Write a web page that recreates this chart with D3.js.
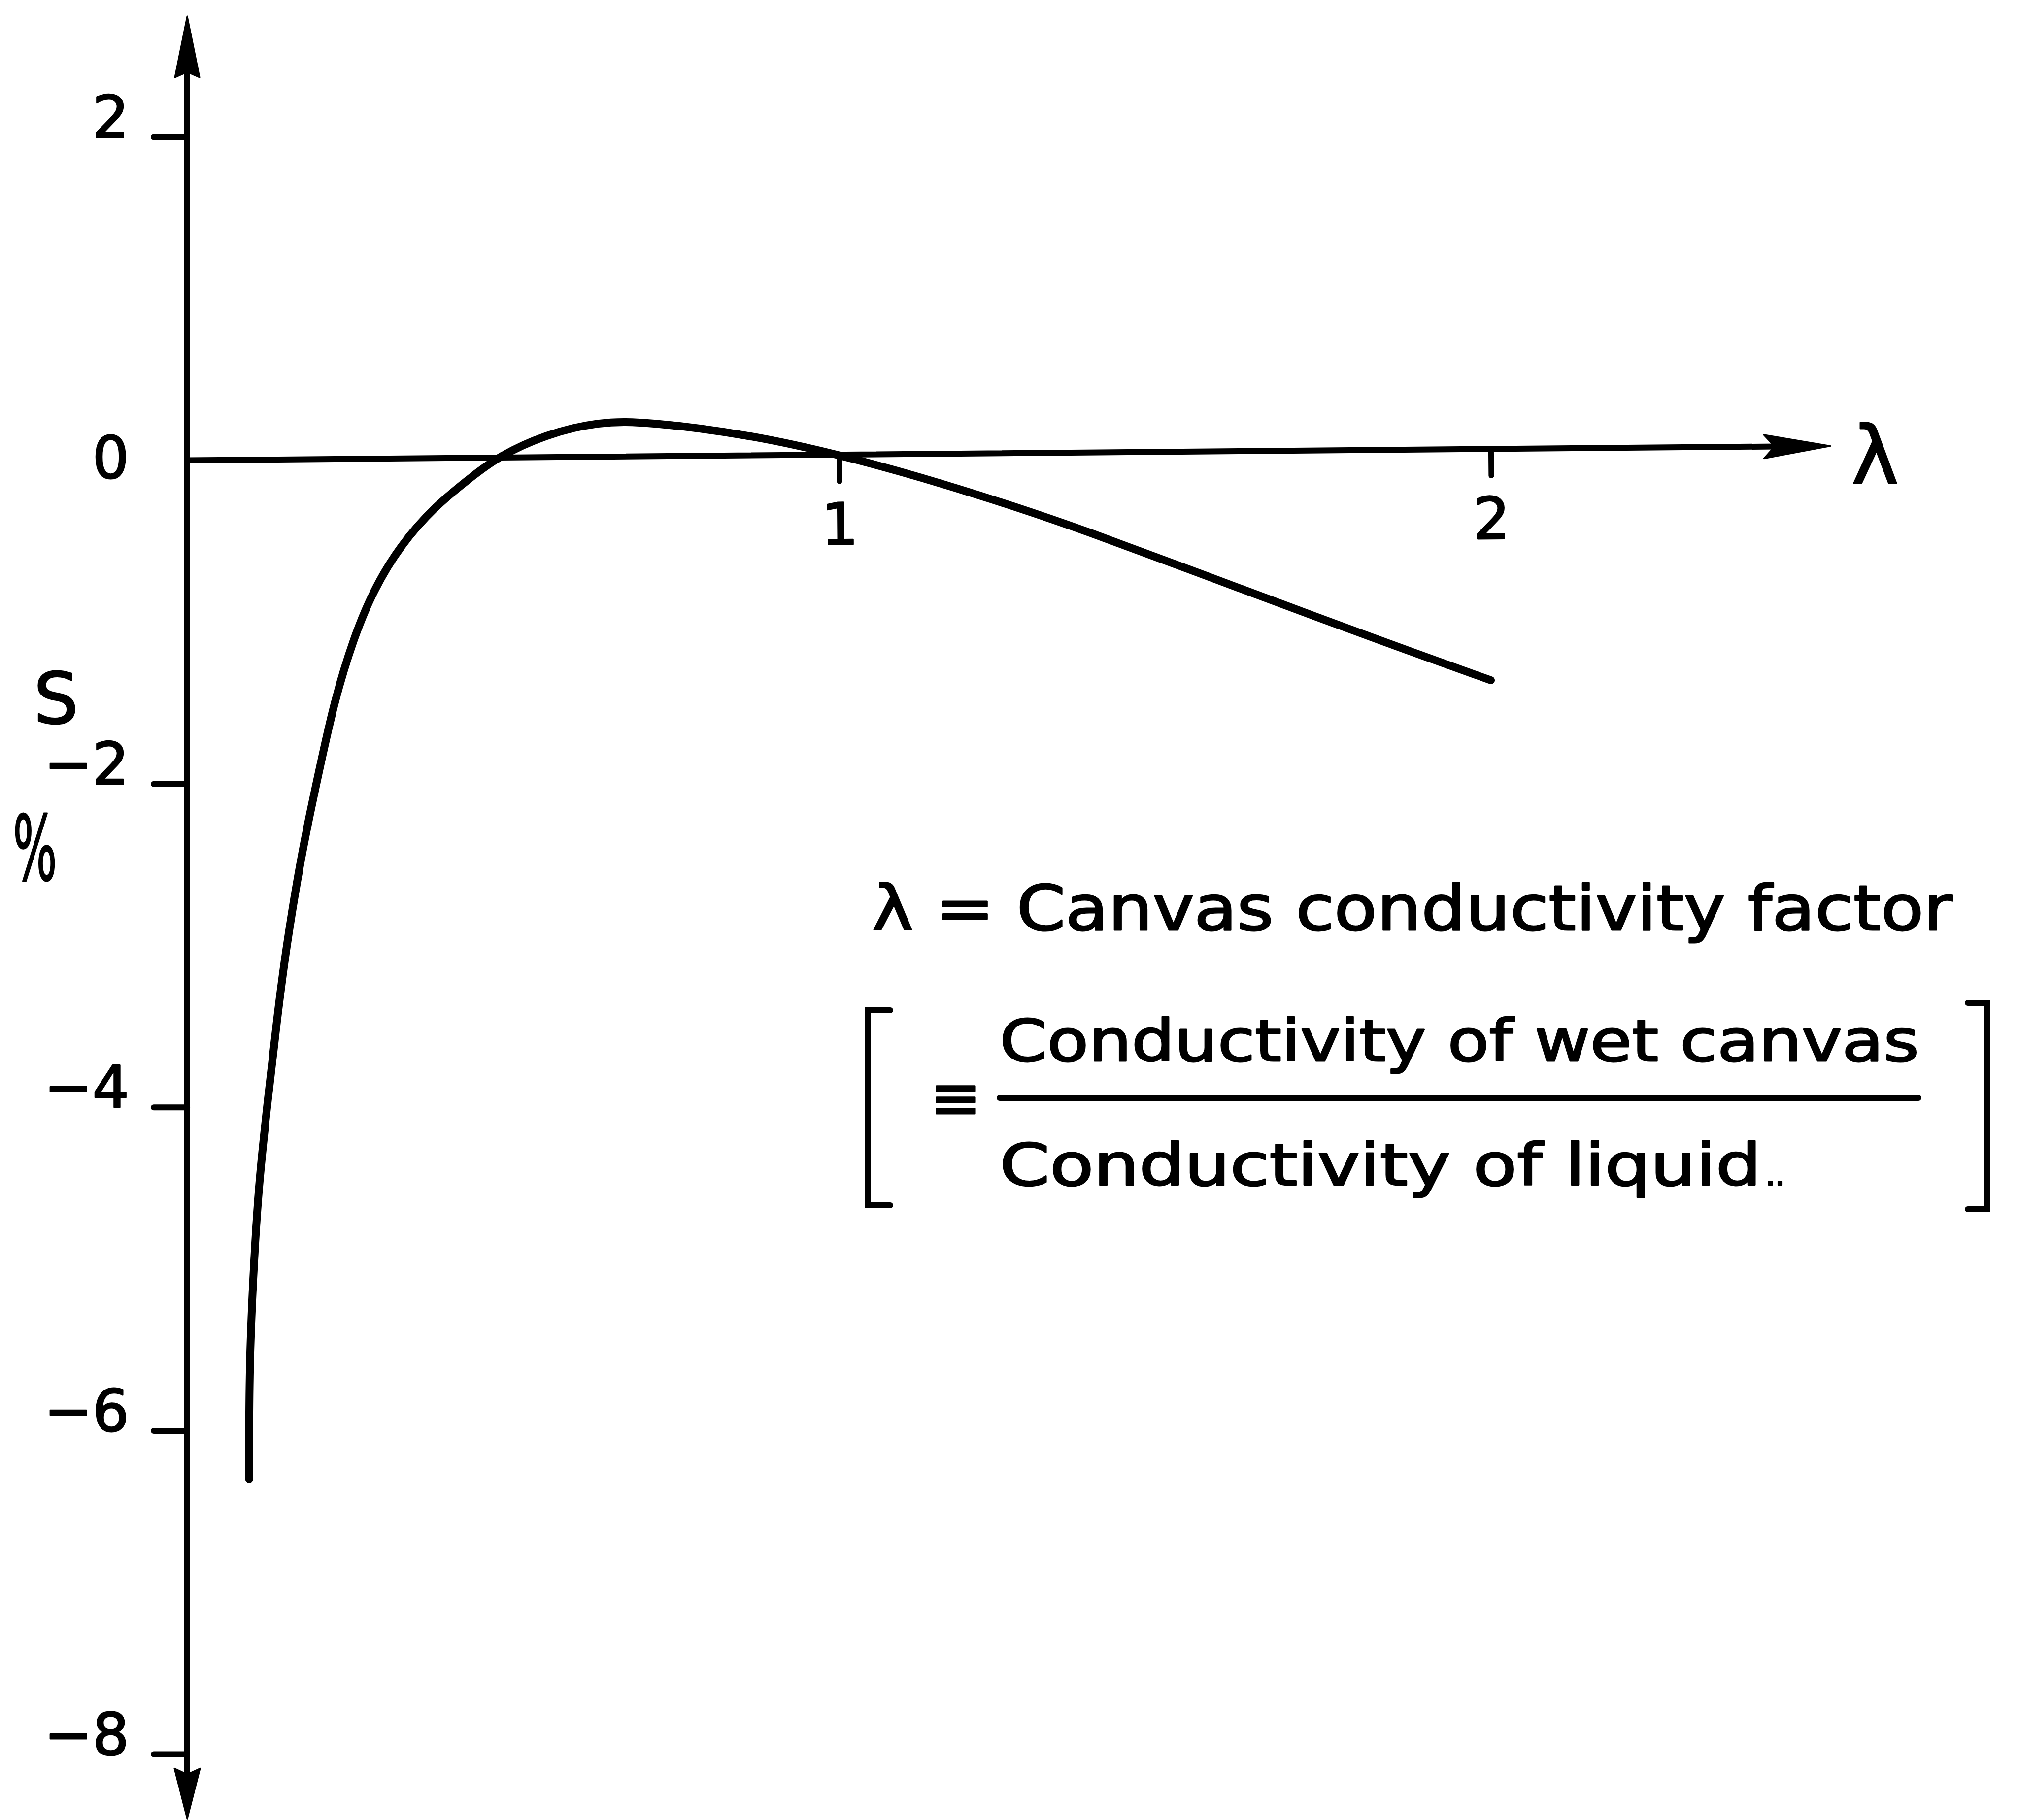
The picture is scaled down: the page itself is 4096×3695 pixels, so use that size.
<!DOCTYPE html>
<meta charset="utf-8">
<style>

body {
    margin: 0;
    background: #fff;
}

text {
    font-family: "DejaVu Sans", sans-serif;
    fill: #000;
    stroke: #000;
    stroke-width: 3;
    stroke-linejoin: round;
}

.curve {
    fill: none;
    stroke: #000;
    stroke-width: 16;
    stroke-linecap: round;
    stroke-linejoin: round;
}

.axis-line, .bracket, .frac-bar {
    fill: none;
    stroke: #000;
    stroke-width: 12;
    stroke-linecap: round;
}

.arrow {
    fill: #000;
    stroke: #000;
    stroke-width: 3;
    stroke-linejoin: round;
}

</style>
<body>
<script src="https://cdn.jsdelivr.net/npm/d3@7"></script>
<script>

var width = 4096,
    height = 3695;

// lambda (canvas conductivity factor) and s (%)
var lambda = [0.095, 0.095, 0.101, 0.109, 0.124, 0.138, 0.150, 0.176, 0.204, 0.225,
              0.255, 0.286, 0.326, 0.381, 0.437, 0.476, 0.549, 0.632, 0.705, 0.861,
              0.995, 1.123, 1.274, 1.388, 1.501, 1.614, 1.727, 1.841, 2.000];
var sValues = [-6.30, -5.62, -5.06, -4.50, -3.94, -3.45, -3.06, -2.41, -1.89, -1.50,
               -1.10, -0.80, -0.53, -0.28, -0.10, 0.02, 0.16, 0.24, 0.24, 0.16,
               0.04, -0.10, -0.29, -0.45, -0.62, -0.79, -0.96, -1.13, -1.36];

var yTicks = [2, 0, -2, -4, -6, -8];
var xTicks = [1, 2];

// how far the drawn axes run past the ticks (data units)
var yAxisTop = 2.746,
    yAxisBottom = -8.40,
    xAxisEnd = 2.521;

var legendTitle = "λ = Canvas conductivity factor";
var numerator = "Conductivity of wet canvas";
var denominator = "Conductivity of liquid";

var svg = d3.select("body").append("svg")
    .attr("width", width)
    .attr("height", height);

var x = d3.scaleLinear().domain([0, 2]).range([380, 3026]);
var y = d3.scaleLinear().domain([2, -8]).range([278, 3561]);

// barbed arrow head pointing along +x, tip at origin
function arrowHead(len, half, notch) {
    return "M0,0L" + (-len) + "," + (-half) + "L" + (-len + notch) + ",0L" + (-len) + "," + half + "Z";
}

// y axis
var gy = svg.append("g")
    .attr("transform", "translate(" + x(0) + ",0)")
    .call(d3.axisLeft(y).tickValues(yTicks).tickSize(68).tickPadding(50).tickSizeOuter(0));

gy.select(".domain").remove();
gy.attr("font-family", null).attr("font-size", 117);
gy.selectAll(".tick line").attr("stroke-width", 12).attr("stroke-linecap", "round");
gy.selectAll(".tick").filter(function(d) { return d === 0; }).select("line").remove();
gy.selectAll(".tick text").attr("dy", function(d) { return d === 0 ? "0.3em" : "0em"; });

gy.append("line")
    .attr("class", "axis-line")
    .attr("x1", 0).attr("x2", 0)
    .attr("y1", y(yAxisTop) + 60)
    .attr("y2", y(yAxisBottom) - 50);

gy.append("path")
    .attr("class", "arrow")
    .attr("transform", "translate(0," + y(yAxisTop) + ") rotate(-90)")
    .attr("d", arrowHead(124, 25, 11));

gy.append("path")
    .attr("class", "arrow")
    .attr("transform", "translate(0," + y(yAxisBottom) + ") rotate(90)")
    .attr("d", arrowHead(102, 26, 12));

// x axis, drawn slightly off level as in the original
var gx = svg.append("g")
    .attr("transform", "translate(0," + y(0) + ") rotate(-0.5," + x(0) + ",0)")
    .call(d3.axisBottom(x).tickValues(xTicks).tickSize(54).tickPadding(45).tickSizeOuter(0)
        .tickFormat(d3.format("d")));

gx.select(".domain").remove();
gx.attr("font-family", null).attr("font-size", 117);
gx.selectAll(".tick line").attr("stroke-width", 11).attr("stroke-linecap", "round");

gx.append("line")
    .attr("class", "axis-line")
    .attr("x1", x(0)).attr("x2", x(xAxisEnd) - 60)
    .attr("y1", 0).attr("y2", 0);

gx.append("path")
    .attr("class", "arrow")
    .attr("transform", "translate(" + x(xAxisEnd) + ",0)")
    .attr("d", arrowHead(135, 24, 22));

// curve
var line = d3.line()
    .x(function(d) { return x(d[0]); })
    .y(function(d) { return y(d[1]); })
    .curve(d3.curveBasis);

svg.append("path")
    .datum(d3.zip(lambda, sValues))
    .attr("class", "curve")
    .attr("d", line);

// axis titles
svg.append("text")
    .attr("x", 3758).attr("y", 981)
    .attr("font-size", 162)
    .text("λ");

svg.append("text")
    .attr("x", 114).attr("y", 1468)
    .attr("text-anchor", "middle")
    .attr("font-size", 143)
    .text("S");

svg.append("text")
    .attr("transform", "translate(71,1786) scale(0.52,1)")
    .attr("text-anchor", "middle")
    .attr("font-size", 181)
    .text("%");

// legend
svg.append("text")
    .attr("x", 1770).attr("y", 1888)
    .attr("font-size", 126)
    .attr("textLength", 2193)
    .attr("lengthAdjust", "spacingAndGlyphs")
    .text(legendTitle);

svg.append("text")
    .attr("x", 1940).attr("y", 2272)
    .attr("text-anchor", "middle")
    .attr("font-size", 125)
    .text("≡");

svg.append("text")
    .attr("x", 2029).attr("y", 2154)
    .attr("font-size", 117)
    .attr("textLength", 1866)
    .attr("lengthAdjust", "spacingAndGlyphs")
    .text(numerator);

svg.append("line")
    .attr("class", "frac-bar")
    .attr("x1", 2029).attr("x2", 3894)
    .attr("y1", 2229).attr("y2", 2229);

svg.append("text")
    .attr("x", 2029).attr("y", 2406)
    .attr("font-size", 117)
    .attr("textLength", 1546)
    .attr("lengthAdjust", "spacingAndGlyphs")
    .text(denominator);

svg.append("text")
    .attr("x", 3584).attr("y", 2406)
    .attr("font-size", 60)
    .text("..");

svg.append("path")
    .attr("class", "bracket")
    .attr("d", "M1807,2051H1762V2447H1807");

svg.append("path")
    .attr("class", "bracket")
    .attr("d", "M3994,2036H4033V2455H3994");

</script>
